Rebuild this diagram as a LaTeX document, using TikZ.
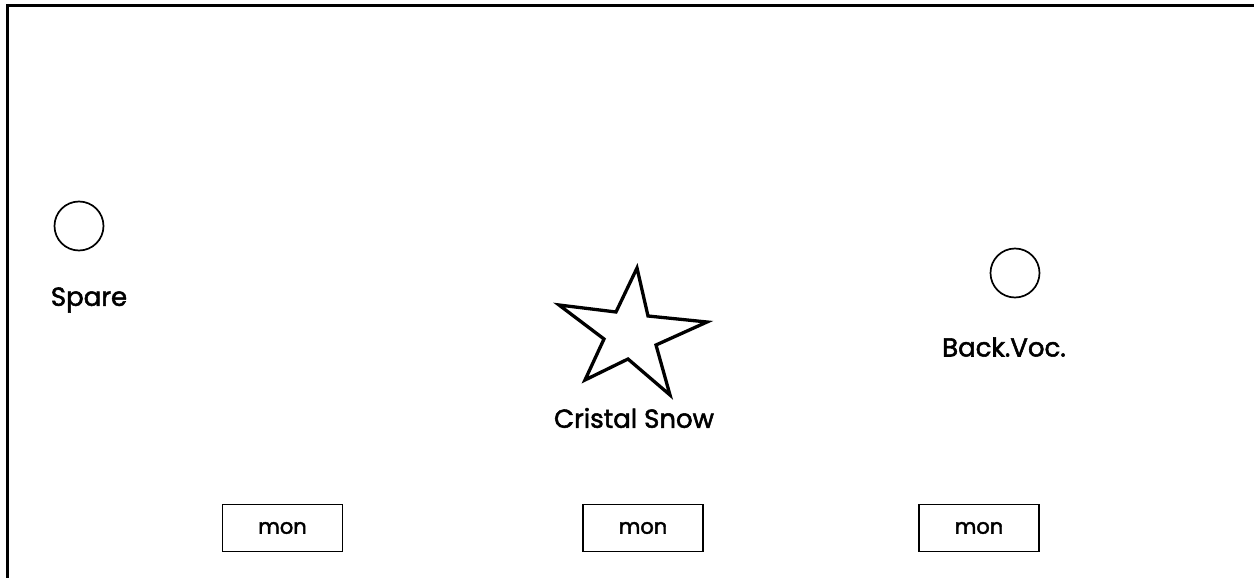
\documentclass[tikz,border=0pt]{standalone}
\usepackage{fontspec}
\setmainfont{Poppins}
\newfontfamily\lblfont[FakeBold=2]{Poppins}
\begin{document}
\begin{tikzpicture}[x=1pt,y=-1pt,
  lbl/.style={font=\lblfont\fontsize{26}{30}\selectfont, inner sep=0pt},
  monbox/.style={draw, line width=1.8pt, minimum width=120pt, minimum height=47pt, inner sep=0pt, font=\lblfont\fontsize{21}{25}\selectfont},
  knob/.style={draw, circle, line width=1.7pt, minimum size=49pt, inner sep=0pt}]
\useasboundingbox (0,0) rectangle (1254,578);
\draw[line width=2.5pt] (7.5,600) -- (7.5,5.5) -- (1270,5.5);
% circles
\node[knob] (spk) at (79,226) {};
\node[lbl] (spare) at (89,300) {Spare};
\node[knob] (bvk) at (1015,273) {};
\node[lbl] (bv) at (1004,347) {Back.Voc.};
% star
\draw[line width=3.3pt, line join=miter] (637,268) -- (648,316) -- (707,322) -- (656,345) -- (670,395) -- (628,359) -- (585,380) -- (604,339) -- (559,305) -- (616,312) -- cycle;
\node[lbl] (cs) at (634,418) {Cristal Snow};
% monitors
\node[monbox] (m1) at (282.5,528) {mon};
\node[monbox] (m2) at (643,528) {mon};
\node[monbox] (m3) at (979,528) {mon};
\end{tikzpicture}
\end{document}
